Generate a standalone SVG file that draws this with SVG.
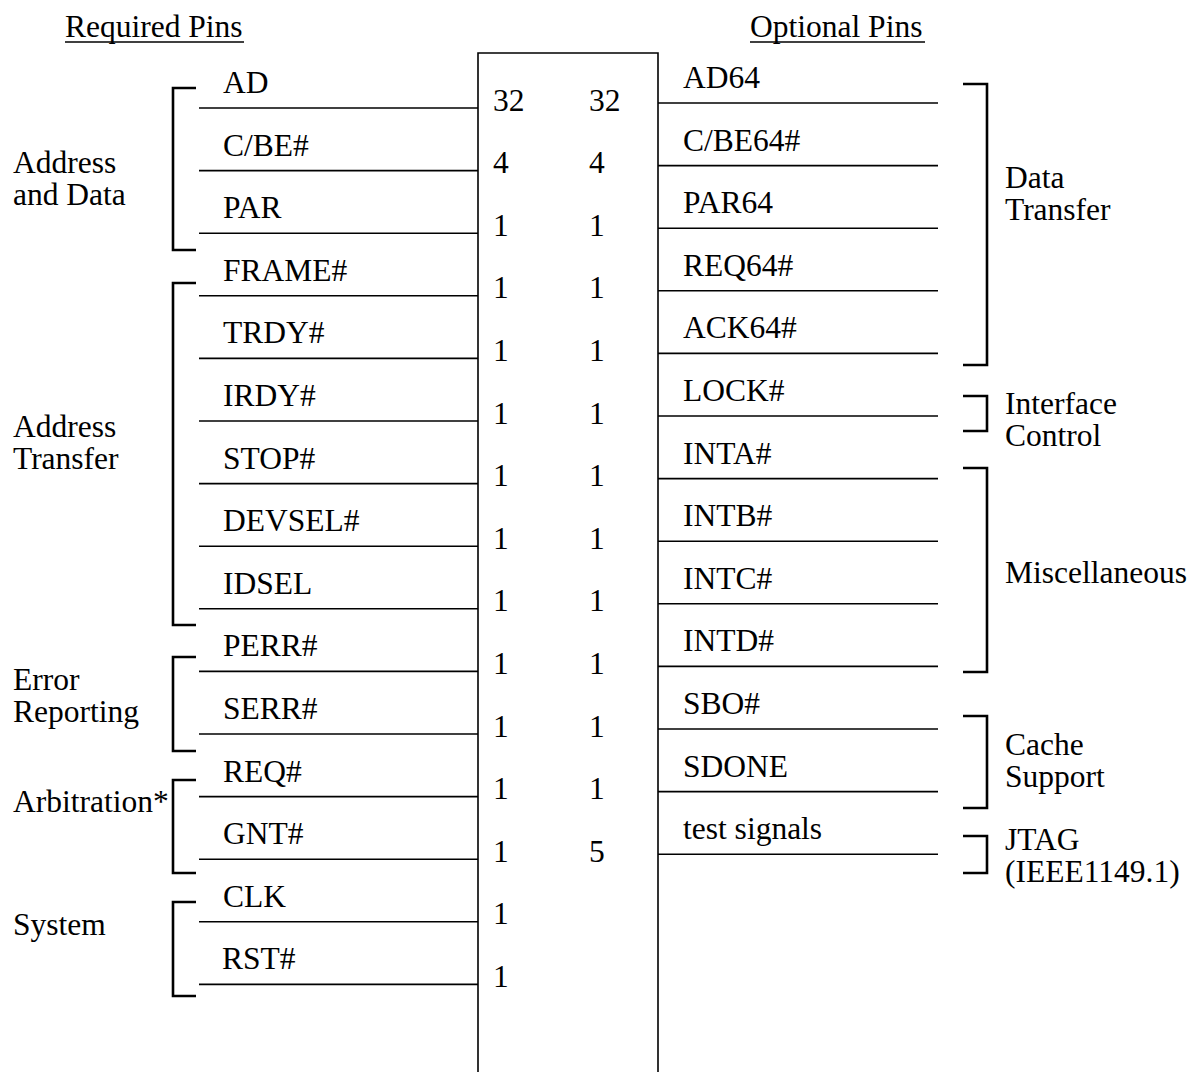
<svg xmlns="http://www.w3.org/2000/svg" width="1192" height="1072" viewBox="0 0 1192 1072">
<style>
text{font-family:"Liberation Serif","Times New Roman",serif;font-size:31.5px;fill:#000}
.ln{stroke:#000;stroke-width:1.6;fill:none}
.br{stroke:#000;stroke-width:2.6;fill:none}
.bx{stroke:#000;stroke-width:1.6;fill:#fff}
</style>
<rect width="1192" height="1072" fill="#fff"/>
<g id="headings">
<text x="65" y="37">Required Pins</text>
<line class="ln" x1="65" y1="42" x2="244" y2="42"/>
<text x="750" y="37">Optional Pins</text>
<line class="ln" x1="750" y1="42" x2="925" y2="42"/>
</g>
<g id="device">
<path class="bx" d="M478 1080 V53 H658 V1080"/>
</g>
<g id="connectors">
<line class="ln" x1="199" y1="108" x2="478" y2="108"/>
<line class="ln" x1="199" y1="170.6" x2="478" y2="170.6"/>
<line class="ln" x1="199" y1="233.2" x2="478" y2="233.2"/>
<line class="ln" x1="199" y1="295.8" x2="478" y2="295.8"/>
<line class="ln" x1="199" y1="358.4" x2="478" y2="358.4"/>
<line class="ln" x1="199" y1="421" x2="478" y2="421"/>
<line class="ln" x1="199" y1="483.6" x2="478" y2="483.6"/>
<line class="ln" x1="199" y1="546.2" x2="478" y2="546.2"/>
<line class="ln" x1="199" y1="608.8" x2="478" y2="608.8"/>
<line class="ln" x1="199" y1="671.4" x2="478" y2="671.4"/>
<line class="ln" x1="199" y1="734" x2="478" y2="734"/>
<line class="ln" x1="199" y1="796.6" x2="478" y2="796.6"/>
<line class="ln" x1="199" y1="859.2" x2="478" y2="859.2"/>
<line class="ln" x1="199" y1="921.8" x2="478" y2="921.8"/>
<line class="ln" x1="199" y1="984.4" x2="478" y2="984.4"/>
<line class="ln" x1="658" y1="103" x2="938" y2="103"/>
<line class="ln" x1="658" y1="165.6" x2="938" y2="165.6"/>
<line class="ln" x1="658" y1="228.2" x2="938" y2="228.2"/>
<line class="ln" x1="658" y1="290.8" x2="938" y2="290.8"/>
<line class="ln" x1="658" y1="353.4" x2="938" y2="353.4"/>
<line class="ln" x1="658" y1="416" x2="938" y2="416"/>
<line class="ln" x1="658" y1="478.6" x2="938" y2="478.6"/>
<line class="ln" x1="658" y1="541.2" x2="938" y2="541.2"/>
<line class="ln" x1="658" y1="603.8" x2="938" y2="603.8"/>
<line class="ln" x1="658" y1="666.4" x2="938" y2="666.4"/>
<line class="ln" x1="658" y1="729" x2="938" y2="729"/>
<line class="ln" x1="658" y1="791.6" x2="938" y2="791.6"/>
<line class="ln" x1="658" y1="854.2" x2="938" y2="854.2"/>
</g>
<g id="pins-required">
<g id="pin-AD"><text x="223" y="93">AD</text><text x="493" y="110.5">32</text><text x="589" y="110.5">32</text></g>
<g id="pin-CBE"><text x="223" y="155.6">C/BE#</text><text x="493" y="173.1">4</text><text x="589" y="173.1">4</text></g>
<g id="pin-PAR"><text x="223" y="218.2">PAR</text><text x="493" y="235.7">1</text><text x="589" y="235.7">1</text></g>
<g id="pin-FRAME"><text x="223" y="280.8">FRAME#</text><text x="493" y="298.3">1</text><text x="589" y="298.3">1</text></g>
<g id="pin-TRDY"><text x="223" y="343.4">TRDY#</text><text x="493" y="360.9">1</text><text x="589" y="360.9">1</text></g>
<g id="pin-IRDY"><text x="223" y="406">IRDY#</text><text x="493" y="423.5">1</text><text x="589" y="423.5">1</text></g>
<g id="pin-STOP"><text x="223" y="468.6">STOP#</text><text x="493" y="486.1">1</text><text x="589" y="486.1">1</text></g>
<g id="pin-DEVSEL"><text x="223" y="531.2">DEVSEL#</text><text x="493" y="548.7">1</text><text x="589" y="548.7">1</text></g>
<g id="pin-IDSEL"><text x="223" y="593.8">IDSEL</text><text x="493" y="611.3">1</text><text x="589" y="611.3">1</text></g>
<g id="pin-PERR"><text x="223" y="656.4">PERR#</text><text x="493" y="673.9">1</text><text x="589" y="673.9">1</text></g>
<g id="pin-SERR"><text x="223" y="719">SERR#</text><text x="493" y="736.5">1</text><text x="589" y="736.5">1</text></g>
<g id="pin-REQ"><text x="223" y="781.6">REQ#</text><text x="493" y="799.1">1</text><text x="589" y="799.1">1</text></g>
<g id="pin-GNT"><text x="223" y="844.2">GNT#</text><text x="493" y="861.7">1</text><text x="589" y="861.7">5</text></g>
<g id="pin-CLK"><text x="223" y="906.8">CLK</text><text x="493" y="924.3">1</text></g>
<g id="pin-RST"><text x="222" y="969.4">RST#</text><text x="493" y="986.9">1</text></g>
</g>
<g id="pins-optional">
<g id="pin-AD64"><text x="683" y="88">AD64</text></g>
<g id="pin-CBE64"><text x="683" y="150.6">C/BE64#</text></g>
<g id="pin-PAR64"><text x="683" y="213.2">PAR64</text></g>
<g id="pin-REQ64"><text x="683" y="275.8">REQ64#</text></g>
<g id="pin-ACK64"><text x="683" y="338.4">ACK64#</text></g>
<g id="pin-LOCK"><text x="683" y="401">LOCK#</text></g>
<g id="pin-INTA"><text x="683" y="463.6">INTA#</text></g>
<g id="pin-INTB"><text x="683" y="526.2">INTB#</text></g>
<g id="pin-INTC"><text x="683" y="588.8">INTC#</text></g>
<g id="pin-INTD"><text x="683" y="651.4">INTD#</text></g>
<g id="pin-SBO"><text x="683" y="714">SBO#</text></g>
<g id="pin-SDONE"><text x="683" y="776.6">SDONE</text></g>
<g id="pin-test"><text x="683" y="839.2">test signals</text></g>
</g>
<g id="group-address-data"><path class="br" d="M196 88 H173 V250 H196"/><text x="13" y="173">Address</text><text x="13" y="205">and Data</text></g>
<g id="group-address-transfer"><path class="br" d="M196 283 H173 V625 H196"/><text x="13" y="437">Address</text><text x="13" y="469">Transfer</text></g>
<g id="group-error"><path class="br" d="M196 657 H173 V751 H196"/><text x="13" y="690">Error</text><text x="13" y="722">Reporting</text></g>
<g id="group-arbitration"><path class="br" d="M196 780 H173 V873 H196"/><text x="13" y="812">Arbitration*</text></g>
<g id="group-system"><path class="br" d="M196 902 H173 V996 H196"/><text x="13" y="935">System</text></g>
<g id="group-data-transfer"><path class="br" d="M963 84 H987 V365 H963"/><text x="1005" y="188">Data</text><text x="1005" y="220">Transfer</text></g>
<g id="group-interface"><path class="br" d="M963 396 H987 V431 H963"/><text x="1005" y="414">Interface</text><text x="1005" y="446">Control</text></g>
<g id="group-misc"><path class="br" d="M963 468 H987 V672 H963"/><text x="1005" y="583">Miscellaneous</text></g>
<g id="group-cache"><path class="br" d="M963 716 H987 V808 H963"/><text x="1005" y="755">Cache</text><text x="1005" y="787">Support</text></g>
<g id="group-jtag"><path class="br" d="M963 836 H987 V873 H963"/><text x="1005" y="850">JTAG</text><text x="1005" y="882">(IEEE1149.1)</text></g>
</svg>
